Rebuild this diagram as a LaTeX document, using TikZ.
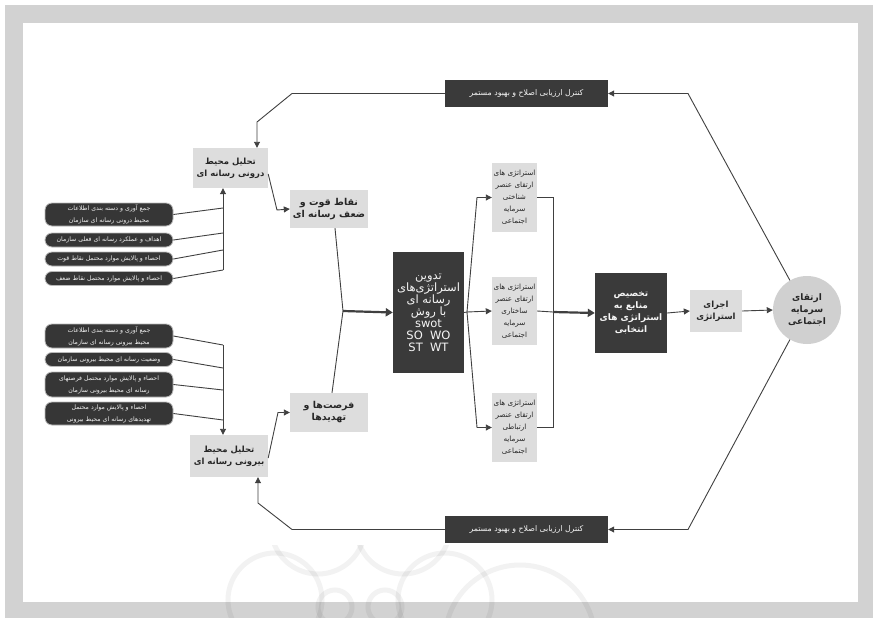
\documentclass[tikz,border=0pt]{standalone}
\usepackage{fontspec}
\setmainfont{DejaVu Sans}
\newfontfamily\arabicfont[Script=Arabic]{DejaVu Sans}
\TeXXeTstate=1
\usetikzlibrary{arrows.meta,shapes.geometric}
\newcommand{\fa}[1]{{\arabicfont\beginR #1\endR}}
\definecolor{framegray}{HTML}{D2D2D2}
\definecolor{boxgray}{HTML}{DDDDDD}
\definecolor{darkfill}{HTML}{3A3A3A}
\definecolor{linecol}{HTML}{404040}
\definecolor{pillfill}{HTML}{363636}
\definecolor{circfill}{HTML}{D0D0D0}
\tikzset{
  lightbox/.style={fill=boxgray, inner sep=0pt, align=center, text=black!85},
  darkbox/.style={fill=darkfill, inner sep=0pt, align=center, text=white!92!gray},
  pill/.style={fill=pillfill, draw=gray!55, line width=0.8pt, rounded corners=7pt, inner sep=0pt, align=center, text=white!90!gray, minimum width=128pt},
  ln/.style={draw=linecol, line width=0.9pt},
  arr/.style={draw=linecol, line width=0.9pt, -{Triangle[length=6pt,width=6pt]}},
  dblarr/.style={draw=linecol, line width=2.2pt, -{Triangle[length=7pt,width=8pt]}},
  wm/.style={draw=black, opacity=0.05, line width=5pt},
}
\newcommand{\pf}{\fontsize{6.2}{7.6}\selectfont}
\newcommand{\stf}{\fontsize{7.2}{11.5}\selectfont}
\newcommand{\df}{\fontsize{11.5}{16}\selectfont}
\begin{document}
\begin{tikzpicture}[x=1pt,y=-1pt]
\useasboundingbox (0,0) rectangle (873,618);
% frame
\fill[white] (0,0) rectangle (873,618);
\fill[framegray] (5,5) rectangle (873,618);
\fill[white] (23,23) rectangle (858,602);
% watermark
\begin{scope}
\clip (200,545) rectangle (660,618);
\draw[wm] (318,527) circle (47);
\draw[wm] (403,527) circle (47);
\draw[wm] (275,600) circle (47);
\draw[wm] (445,600) circle (47);
\draw[wm] (335,607) circle (17);
\draw[wm] (385,607) circle (17);
\draw[wm] (520,640) circle (75);
\end{scope}

% left pills (internal)
\node[pill, minimum height=23pt] (p1) at (109,214.5) {\pf\fa{جمع آوری و دسته بندی اطلاعات}\\\pf\fa{محیط درونی رسانه ای سازمان}};
\node[pill, minimum height=14pt] (p2) at (109,240) {\pf\fa{اهداف و عملکرد رسانه ای فعلی سازمان}};
\node[pill, minimum height=14pt] (p3) at (109,259) {\pf\fa{احصاء و پالایش موارد محتمل نقاط قوت}};
\node[pill, minimum height=14pt] (p4) at (109,278.5) {\pf\fa{احصاء و پالایش موارد محتمل نقاط ضعف}};
% left pills (external)
\node[pill, minimum height=24pt] (q1) at (109,336) {\pf\fa{جمع آوری و دسته بندی اطلاعات}\\\pf\fa{محیط بیرونی رسانه ای سازمان}};
\node[pill, minimum height=14pt] (q2) at (109,359.5) {\pf\fa{وضعیت رسانه ای محیط بیرونی سازمان}};
\node[pill, minimum height=25pt] (q3) at (109,384.5) {\pf\fa{احصاء و پالایش موارد محتمل فرصتهای}\\\pf\fa{رسانه ای محیط بیرونی سازمان}};
\node[pill, minimum height=23pt] (q4) at (109,413.5) {\pf\fa{احصاء و پالایش موارد محتمل}\\\pf\fa{تهدیدهای رسانه ای محیط بیرونی}};

% analysis boxes
\node[lightbox, minimum width=75pt, minimum height=40pt, font=\bfseries] (intA) at (230.5,168) {\fontsize{8.5}{14}\selectfont\fa{تحلیل محیط}\\\fontsize{8.5}{14}\selectfont\fa{درونی رسانه ای}};
\node[lightbox, minimum width=78pt, minimum height=42pt, font=\bfseries] (intB) at (229,456) {\fontsize{8.5}{14}\selectfont\fa{تحلیل محیط}\\\fontsize{8.5}{14}\selectfont\fa{بیرونی رسانه ای}};
\node[lightbox, minimum width=78pt, minimum height=38pt, font=\bfseries] (sw) at (329,209) {\fontsize{9.5}{15}\selectfont\fa{نقاط قوت و}\\\fontsize{9.5}{15}\selectfont\fa{ضعف رسانه ای}};
\node[lightbox, minimum width=78pt, minimum height=39pt, font=\bfseries] (ot) at (329,412.5) {\fontsize{9.5}{15}\selectfont\fa{فرصت‌ها و}\\\fontsize{9.5}{15}\selectfont\fa{تهدیدها}};

% swot box
\node[darkbox, minimum width=71pt, minimum height=121pt] (d1) at (428.5,312.5) {\df\fa{تدوین}\\\df\fa{استراتژی‌های}\\\df\fa{رسانه ای}\\\df\fa{با روش}\\\df swot\\\df SO\ \ WO\\\df ST\ \ WT};

% strategy boxes
\node[lightbox, minimum width=45pt, minimum height=69pt] (s1) at (514.5,197.5) {\stf\fa{استراتژی های}\\\stf\fa{ارتقای عنصر}\\\stf\fa{شناختی}\\\stf\fa{سرمایه}\\\stf\fa{اجتماعی}};
\node[lightbox, minimum width=45pt, minimum height=68pt] (s2) at (514.5,311) {\stf\fa{استراتژی های}\\\stf\fa{ارتقای عنصر}\\\stf\fa{ساختاری}\\\stf\fa{سرمایه}\\\stf\fa{اجتماعی}};
\node[lightbox, minimum width=45pt, minimum height=69pt] (s3) at (514.5,427.5) {\stf\fa{استراتژی های}\\\stf\fa{ارتقای عنصر}\\\stf\fa{ارتباطی}\\\stf\fa{سرمایه}\\\stf\fa{اجتماعی}};

% resource allocation
\node[darkbox, minimum width=72pt, minimum height=80pt, font=\bfseries] (d2) at (631,313) {\fontsize{9}{15.5}\selectfont\fa{تخصیص}\\\fontsize{9}{15.5}\selectfont\fa{منابع به}\\\fontsize{9}{15.5}\selectfont\fa{استراتژی های}\\\fontsize{9}{15.5}\selectfont\fa{انتخابی}};
\node[lightbox, minimum width=52pt, minimum height=42pt, font=\bfseries] (ex) at (716,311) {\fontsize{8.5}{14}\selectfont\fa{اجرای}\\\fontsize{8.5}{14}\selectfont\fa{استراتژی}};
\node[circle, fill=circfill, minimum size=68pt, inner sep=0pt, align=center, text=black!85, font=\bfseries] (circ) at (807,310) {\fontsize{9}{13.5}\selectfont\fa{ارتقای}\\\fontsize{9}{13.5}\selectfont\fa{سرمایه}\\\fontsize{9}{13.5}\selectfont\fa{اجتماعی}};

% feedback boxes
\node[darkbox, minimum width=163pt, minimum height=27pt] (fb1) at (526.5,93.5) {\fontsize{7.8}{9}\selectfont\fa{کنترل ارزیابی اصلاح و بهبود مستمر}};
\node[darkbox, minimum width=163pt, minimum height=27pt] (fb2) at (526.5,529.5) {\fontsize{7.8}{9}\selectfont\fa{کنترل ارزیابی اصلاح و بهبود مستمر}};

% junction coordinates
\coordinate (ja1) at (223,208);
\coordinate (ja2) at (223,233);
\coordinate (ja3) at (223,250);
\coordinate (ja4) at (223,270);
\coordinate (jb1) at (223,345);
\coordinate (jb2) at (223,368);
\coordinate (jb3) at (223,390);
\coordinate (jb4) at (223,420);
\coordinate (m) at (343,311);
\coordinate (f) at (467,312);
\coordinate (b) at (553,312);
\coordinate (tc) at (688,93.5);
\coordinate (bc) at (688,529.5);

% pills -> analysis
\draw[ln] (p1.east) -- (ja1);
\draw[ln] (p2.east) -- (ja2);
\draw[ln] (p3.east) -- (ja3);
\draw[ln] (p4.east) -- (ja4);
\draw[arr] (ja4) -- (intA.south -| ja4);
\draw[ln] (q1.east) -- (jb1);
\draw[ln] (q2.east) -- (jb2);
\draw[ln] (q3.east) -- (jb3);
\draw[ln] (q4.east) -- (jb4);
\draw[arr] (jb1) -- (intB.north -| jb1);

% analysis -> sw / ot
\draw[arr] ([yshift=-6pt]intA.east) -- (277,210) -- (sw.west);
\draw[arr] ([yshift=-2pt]intB.east) -- (278,412.5) -- (ot.west);

% merge -> swot
\draw[ln] ([xshift=6pt]sw.south) -- (m);
\draw[ln] ([xshift=3pt]ot.north) -- (m);
\draw[dblarr] (m) -- (d1.west);

% fan to strategies
\draw[ln] (d1.east) -- (f);
\draw[arr] (f) -- (477,197.5) -- (s1.west);
\draw[arr] (f) -- (s2.west);
\draw[arr] (f) -- (477,427.5) -- (s3.west);

% bracket -> allocation
\draw[ln] (s1.east) -| (b);
\draw[ln] (s3.east) -| (b);
\draw[ln] (s2.east) -- (b);
\draw[dblarr] (b) -- (d2.west);
\draw[arr] (d2.east) -- (ex.west);
\draw[arr] (ex.east) -- (circ.west);

% feedback loops
\draw[arr] (circ.120) -- (tc) -- (fb1.east);
\draw[arr] (fb1.west) -- (292,93.5) -- (257,122) -- ([xshift=26.5pt]intA.north);
\draw[arr] (circ.240) -- (bc) -- (fb2.east);
\draw[arr] (fb2.west) -- (292,529.5) -- (258,503) -- ([xshift=29pt]intB.south);
\end{tikzpicture}
\end{document}
